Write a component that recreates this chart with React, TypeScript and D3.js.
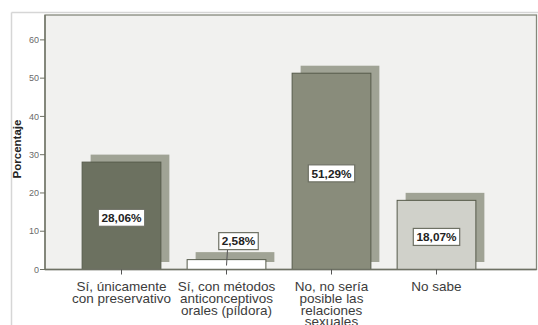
import React from "react";
import * as d3 from "d3";

const categories: string[][] = [
  ["Sí, únicamente", "con preservativo"],
  ["Sí, con métodos", "anticonceptivos", "orales (píldora)"],
  ["No, no sería", "posible las", "relaciones", "sexuales"],
  ["No sabe"],
];
const values: number[] = [28.06, 2.58, 51.29, 18.07];
const valueLabels: string[] = ["28,06%", "2,58%", "51,29%", "18,07%"];
const yTicks: number[] = [0, 10, 20, 30, 40, 50, 60];
const fills: string[] = ["#6c7160", "#ffffff", "#898c7b", "#d0d1ca"];

const W = 538;
const H = 325;
const plotLeft = 45;
const plotRight = 536.5;
const plotTop = 15;
const baseY = 269.5;

export default function App() {
  const x = d3
    .scaleBand<number>()
    .domain(values.map((_, i) => i))
    .range([69, 489])
    .paddingInner(0.25)
    .paddingOuter(0.125);
  const y = d3.scaleLinear().domain([0, 66.5]).range([baseY, plotTop]);
  const bw = x.bandwidth();
  const sdx = 8.5;
  const sdy = 7.5;
  const font = "'Liberation Sans', Arial, sans-serif";

  return (
    <svg
      width={W}
      height={H}
      style={{ position: "absolute", left: 0, top: 0, background: "#ffffff" }}
      fontFamily={font}
    >
      <rect x={0} y={0} width={W} height={H} fill="#ffffff" />
      {/* outer frame */}
      <line x1={11.5} x2={W} y1={12.5} y2={12.5} stroke="#d6d6d6" strokeWidth={1.5} />
      <line x1={11.5} x2={11.5} y1={12.5} y2={H} stroke="#d6d6d6" strokeWidth={1.5} />
      {/* plot background */}
      <rect
        x={plotLeft}
        y={plotTop}
        width={plotRight - plotLeft}
        height={baseY - plotTop}
        fill="#f1f1ef"
        stroke="#85887b"
        strokeWidth={1.3}
      />
      {/* shadows */}
      {values.map((v, i) => (
        <rect
          key={"s" + i}
          x={(x(i) as number) + sdx}
          y={y(v) - sdy}
          width={bw}
          height={baseY - y(v)}
          fill="#a0a395"
        />
      ))}
      {/* bars */}
      {values.map((v, i) => (
        <rect
          key={"b" + i}
          x={x(i) as number}
          y={y(v)}
          width={bw}
          height={baseY - y(v)}
          fill={fills[i]}
          stroke="#555a4a"
          strokeWidth={1}
        />
      ))}
      {/* axes lines */}
      <line x1={plotLeft} x2={plotRight} y1={baseY} y2={baseY} stroke="#6e7164" strokeWidth={1.3} />
      <line x1={plotLeft} x2={plotLeft} y1={plotTop} y2={baseY} stroke="#6e7164" strokeWidth={1.3} />
      {/* y ticks */}
      {yTicks.map((t) => (
        <g key={"t" + t}>
          <line x1={plotLeft - 5} x2={plotLeft} y1={y(t)} y2={y(t)} stroke="#6e7164" strokeWidth={1} />
          <text
            x={plotLeft - 6}
            y={y(t)}
            dy="0.35em"
            textAnchor="end"
            fontSize={9}
            fill="#6a6a6a"
          >
            {t}
          </text>
        </g>
      ))}
      <text
        transform={`translate(21,149) rotate(-90)`}
        textAnchor="middle"
        fontSize={11.5}
        fontWeight="bold"
        fill="#222"
      >
        Porcentaje
      </text>
      {/* x ticks and labels */}
      {categories.map((lines, i) => {
        const cx = (x(i) as number) + bw / 2;
        return (
          <g key={"c" + i}>
            <line x1={cx} x2={cx} y1={baseY} y2={baseY + 5} stroke="#555" strokeWidth={1} />
            <text textAnchor="middle" fontSize={13.5} fill="#3c3c3c">
              {lines.map((l, k) => (
                <tspan key={k} x={cx} y={291 + k * 11.8}>
                  {l}
                </tspan>
              ))}
            </text>
          </g>
        );
      })}
      {/* value labels */}
      {values.map((v, i) => {
        const cx = (x(i) as number) + bw / 2;
        const small = v < 5;
        const bx = small ? cx + 12 : cx;
        const by = small ? y(v) - 18.5 : y(v / 2) + 2;
        const bwid = valueLabels[i].length * 6.9 + 5;
        const bh = 17;
        return (
          <g key={"l" + i}>
            {small && (
              <line x1={cx + 1} x2={cx} y1={by + bh / 2} y2={baseY - 4} stroke="#555" strokeWidth={1} />
            )}
            <rect
              x={bx - bwid / 2}
              y={by - bh / 2}
              width={bwid}
              height={bh}
              fill="#ffffff"
              stroke="#6e7164"
              strokeWidth={1.2}
            />
            <text
              x={bx}
              y={by}
              dy="0.36em"
              textAnchor="middle"
              fontSize={11.8}
              fontWeight="bold"
              fill="#222"
            >
              {valueLabels[i]}
            </text>
          </g>
        );
      })}
    </svg>
  );
}
